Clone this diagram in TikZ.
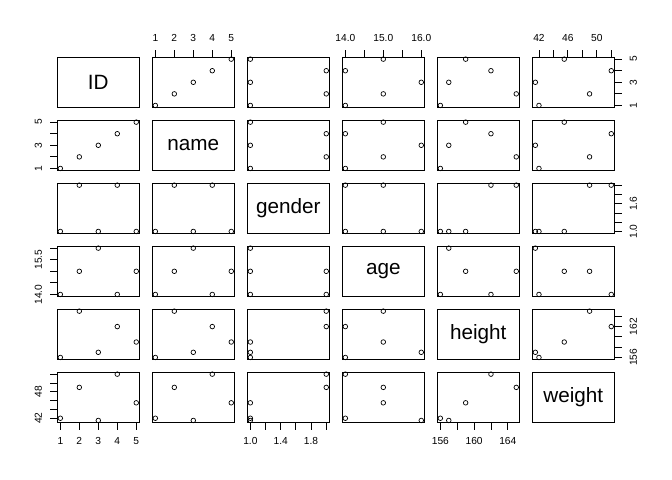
\documentclass[tikz,border=0pt]{standalone}
\usepackage{fontspec}
\setmainfont{Liberation Sans}
\tikzset{
	panel/.style={draw, line width=0.8bp, minimum width=\W bp, minimum height=\H bp, inner sep=0pt},
	varlab/.style={font=\fontsize{20.7bp}{24bp}\selectfont},
	obs/.style={circle, draw, line width=0.7bp, minimum size=4.6bp, inner sep=0pt},
	tick/.style={line width=0.8bp},
	ticklab/.style={font=\fontsize{10.2bp}{12bp}\selectfont, inner sep=0pt},
}
\pgfkeys{/pgf/number format/assume math mode=true}
\begin{document}
\begin{tikzpicture}[x=1bp, y=-1bp]
	\useasboundingbox (0,0) rectangle (672,480);
	\def\xorg{57.3} % Left edge of the first column
	\def\yorg{57.3} % Top edge of the first row
	\def\W{82}      % Panel width
	\def\H{50}      % Panel height
	\def\dx{95}     % Horizontal gap between panels
	\def\dy{63}     % Vertical gap between panels
	\def\ticklen{7.2}
	\def\labgap{19}
	
	\def\varname{{"ID","name","gender","age","height","weight"}}
	\def\vmin{{1,1,1,14,156,41.5}}
	\def\vmax{{5,5,2,16,165,52}}
	\def\vals{{1,2,3,4,5,1,2,3,4,5,1,2,1,2,1,14,15,16,14,15,156,165,157,162,159,42,49,41.5,52,45.5}}
	
	% Panels: variable names on the diagonal, scatter plots elsewhere
	\foreach \row in {0,...,5} {
		\foreach \col in {0,...,5} {
			\pgfmathsetmacro{\px}{\xorg + \col * \dx}
			\pgfmathsetmacro{\py}{\yorg + \row * \dy}
			\ifnum\row=\col
			\node[panel, varlab] (p\row\col) at (\px + \W/2, \py + \H/2)
			{\pgfmathparse{\varname[\row]}\pgfmathresult};
			\else
			\node[panel] (p\row\col) at (\px + \W/2, \py + \H/2) {};
			\pgfmathsetmacro{\xlo}{\vmin[\col]}
			\pgfmathsetmacro{\xhi}{\vmax[\col]}
			\pgfmathsetmacro{\ylo}{\vmin[\row]}
			\pgfmathsetmacro{\yhi}{\vmax[\row]}
			\foreach \k in {0,...,4} {
				\pgfmathtruncatemacro{\ix}{5*\col+\k}
				\pgfmathtruncatemacro{\iy}{5*\row+\k}
				\pgfmathsetmacro{\xv}{\vals[\ix]}
				\pgfmathsetmacro{\yv}{\vals[\iy]}
				\pgfmathsetmacro{\ox}{\px + \W*(0.04 + (\xv - \xlo)/(\xhi - \xlo))/1.08}
				\pgfmathsetmacro{\oy}{\py + \H - \H*(0.04 + (\yv - \ylo)/(\yhi - \ylo))/1.08}
				\node[obs] (o\row\col\k) at (\ox, \oy) {};
			}
			\fi
		}
	}
	
	% Horizontal axes: column/row/side/first/step/last index/label every/decimals
	\foreach \col/\row/\side/\first/\tstep/\n/\every/\dec in
	{1/0/-1/1/1/4/1/0, 3/0/-1/14/0.5/4/2/1, 5/0/-1/42/2/5/2/0,
		0/5/1/1/1/4/1/0, 2/5/1/1/0.2/5/2/1, 4/5/1/156/2/4/2/0} {
		\pgfmathsetmacro{\ey}{\yorg + \row * \dy + \H * (1 + \side)/2}
		\pgfmathsetmacro{\xlo}{\vmin[\col]}
		\pgfmathsetmacro{\xhi}{\vmax[\col]}
		\pgfmathsetmacro{\vlo}{\xlo - 0.04 * (\xhi - \xlo)}
		\pgfmathsetmacro{\vrg}{1.08 * (\xhi - \xlo)}
		\foreach \m in {0,...,\n} {
			\pgfmathsetmacro{\val}{\first + \m * \tstep}
			\pgfmathsetmacro{\tx}{\xorg + \col * \dx + \W * (\val - \vlo) / \vrg}
			\draw[tick] (\tx, \ey) -- (\tx, \ey + \side * \ticklen);
			\pgfmathtruncatemacro{\lab}{mod(\m, \every) == 0}
			\ifnum\lab=1
			\node[ticklab] (tx\col\row\m) at (\tx, \ey + \side * \labgap)
			{\pgfmathprintnumber[fixed, fixed zerofill, precision=\dec]{\val}};
			\fi
		}
	}
	
	% Vertical axes: row/column/side/first/step/last index/label every/decimals
	\foreach \row/\col/\side/\first/\tstep/\n/\every/\dec in
	{1/0/-1/1/1/4/2/0, 3/0/-1/14/0.5/4/3/1, 5/0/-1/42/2/5/3/0,
		0/5/1/1/1/4/2/0, 2/5/1/1/0.2/5/3/1, 4/5/1/156/2/4/3/0} {
		\pgfmathsetmacro{\ex}{\xorg + \col * \dx + \W * (1 + \side)/2}
		\pgfmathsetmacro{\ylo}{\vmin[\row]}
		\pgfmathsetmacro{\yhi}{\vmax[\row]}
		\pgfmathsetmacro{\vlo}{\ylo - 0.04 * (\yhi - \ylo)}
		\pgfmathsetmacro{\vrg}{1.08 * (\yhi - \ylo)}
		\foreach \m in {0,...,\n} {
			\pgfmathsetmacro{\val}{\first + \m * \tstep}
			\pgfmathsetmacro{\ty}{\yorg + \row * \dy + \H - \H * (\val - \vlo) / \vrg}
			\draw[tick] (\ex, \ty) -- (\ex + \side * \ticklen, \ty);
			\pgfmathtruncatemacro{\lab}{mod(\m, \every) == 0}
			\ifnum\lab=1
			\node[ticklab, rotate=90] (ty\row\col\m) at (\ex + \side * \labgap, \ty)
			{\pgfmathprintnumber[fixed, fixed zerofill, precision=\dec]{\val}};
			\fi
		}
	}
\end{tikzpicture}
\end{document}
